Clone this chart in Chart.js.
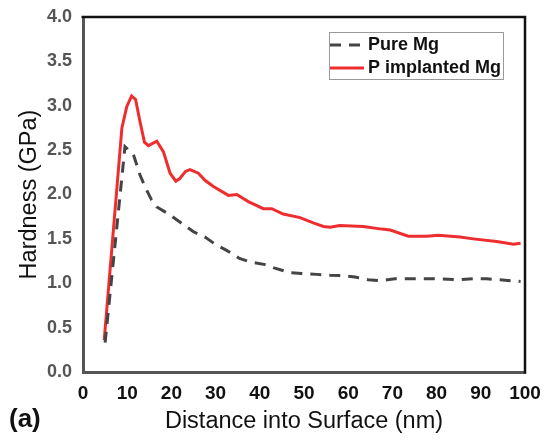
<!DOCTYPE html>
<html>
<head>
<meta charset="utf-8">
<script src="https://cdn.jsdelivr.net/npm/chart.js@4.4.1/dist/chart.umd.min.js"></script>
<style>
  html, body { margin: 0; padding: 0; background: #fff; }
  #wrap { width: 553px; height: 442px; position: relative; }
</style>
</head>
<body>
<div id="wrap"><canvas id="chart"></canvas></div>
<script>
// depth (nm) and hardness (GPa)
const pureDepth = [5, 9.5, 11.4, 12.9, 14.2, 15.5, 16.7, 19.7, 21.9, 25.0, 27.6, 30.2, 32.5, 35.4, 37.8,
  41.2, 43.4, 46.8, 49.5, 52.9, 55.9, 58.9, 61.5, 64.5, 67.2, 70.6, 73.2, 76.6, 79.3, 82.6, 85.3,
  88.3, 91.3, 94.3, 97.4, 99];
const pureHard = [0.33, 2.54, 2.45, 2.22, 2.07, 1.94, 1.86, 1.77, 1.69, 1.58, 1.52, 1.43, 1.37, 1.28, 1.24,
  1.21, 1.17, 1.12, 1.11, 1.10, 1.09, 1.085, 1.07, 1.04, 1.03, 1.05, 1.05, 1.05, 1.05, 1.045, 1.04,
  1.05, 1.05, 1.04, 1.025, 1.02];

const implDepth = [4.8, 8.8, 9.9, 11.0, 11.9, 12.9, 13.9, 14.8, 16.7, 18.2, 19.7, 21.0, 21.9, 23.2, 24.2,
  26.1, 27.6, 29.5, 32.9, 34.8, 37.4, 40.8, 42.7, 45.3, 49.1, 52.1, 54.4, 55.9, 58.1, 63.4, 67.6,
  69.5, 73.6, 77.8, 80.4, 85.3, 88.3, 93.6, 97.4, 99];
const implHard = [0.36, 2.75, 2.99, 3.11, 3.07, 2.82, 2.59, 2.55, 2.60, 2.48, 2.24, 2.15, 2.18, 2.26, 2.28,
  2.24, 2.16, 2.09, 1.99, 2.00, 1.92, 1.84, 1.84, 1.78, 1.74, 1.68, 1.64, 1.63, 1.65, 1.64, 1.61,
  1.60, 1.53, 1.53, 1.54, 1.52, 1.50, 1.47, 1.44, 1.45];

const xTicks = [0, 10, 20, 30, 40, 50, 60, 70, 80, 90, 100];
const yTicks = [0, 0.5, 1, 1.5, 2, 2.5, 3, 3.5, 4];

const FONT = "Liberation Sans, Arial, sans-serif";

function toPoints(xs, ys) {
  return xs.map((x, i) => ({ x, y: ys[i] }));
}

// top and right frame lines + inset legend + panel letter
const framePlugin = {
  id: "frame",
  afterDraw(chart) {
    const { ctx, chartArea: a } = chart;
    ctx.save();
    ctx.strokeStyle = "#111";
    ctx.lineWidth = 2.5;
    ctx.beginPath();
    ctx.moveTo(a.left - 1.5, a.top);
    ctx.lineTo(a.right, a.top);
    ctx.lineTo(a.right, a.bottom + 1.5);
    ctx.stroke();

    // legend box
    const bx = 329, by = 32, bw = 174, bh = 47;
    ctx.fillStyle = "#fff";
    ctx.fillRect(bx, by, bw, bh);
    ctx.strokeStyle = "#999";
    ctx.lineWidth = 1;
    ctx.strokeRect(bx + 0.5, by + 0.5, bw, bh);
    ctx.font = "bold 18px " + FONT;
    ctx.textBaseline = "middle";
    chart.data.datasets.forEach((ds, i) => {
      const y = by + 13 + i * 23;
      ctx.strokeStyle = ds.borderColor;
      ctx.lineWidth = ds.borderWidth;
      ctx.setLineDash(ds.borderDash || []);
      ctx.beginPath();
      ctx.moveTo(bx + 1, y);
      ctx.lineTo(bx + 35, y);
      ctx.stroke();
      ctx.setLineDash([]);
      ctx.fillStyle = "#111";
      ctx.fillText(ds.label, bx + 39, y);
    });

    ctx.font = "bold 26px " + FONT;
    ctx.fillStyle = "#111";
    ctx.textBaseline = "alphabetic";
    ctx.fillText("(a)", 9, 427);
    ctx.restore();
  },
};

new Chart(document.getElementById("chart"), {
  type: "line",
  data: {
    datasets: [
      {
        label: "Pure Mg",
        data: toPoints(pureDepth, pureHard),
        borderColor: "#444",
        borderWidth: 3,
        borderDash: [11, 8],
        pointRadius: 0,
        fill: false,
      },
      {
        label: "P implanted Mg",
        data: toPoints(implDepth, implHard),
        borderColor: "#ee2e2e",
        borderWidth: 3,
        pointRadius: 0,
        fill: false,
      },
    ],
  },
  options: {
    responsive: true,
    maintainAspectRatio: false,
    animation: false,
    layout: { padding: { top: 17, right: 28, left: 0, bottom: 0 } },
    plugins: { legend: { display: false }, tooltip: { enabled: false } },
    scales: {
      x: {
        type: "linear",
        min: 0,
        max: 100,
        afterFit: (s) => { s.height = 70; },
        afterBuildTicks: (s) => { s.ticks = xTicks.map((v) => ({ value: v })); },
        grid: { display: false },
        border: { color: "#555", width: 3 },
        ticks: { color: "#111", padding: 2, font: { family: FONT, size: 19, weight: "bold" } },
        title: {
          display: true,
          text: "Distance into Surface (nm)",
          color: "#111",
          padding: { top: 0, bottom: 6 },
          font: { family: FONT, size: 23.5 },
        },
      },
      y: {
        min: 0,
        max: 4,
        afterFit: (s) => { s.width = 83; },
        afterBuildTicks: (s) => { s.ticks = yTicks.map((v) => ({ value: v })); },
        grid: { display: false },
        border: { color: "#555", width: 3 },
        ticks: {
          color: "#555",
          padding: 3,
          font: { family: FONT, size: 18, weight: "bold" },
          callback: (v) => v.toFixed(1),
        },
        title: {
          display: true,
          text: "Hardness (GPa)",
          color: "#111",
          padding: { top: 15, bottom: 0 },
          font: { family: FONT, size: 23.5 },
        },
      },
    },
  },
  plugins: [framePlugin],
});
</script>
</body>
</html>
